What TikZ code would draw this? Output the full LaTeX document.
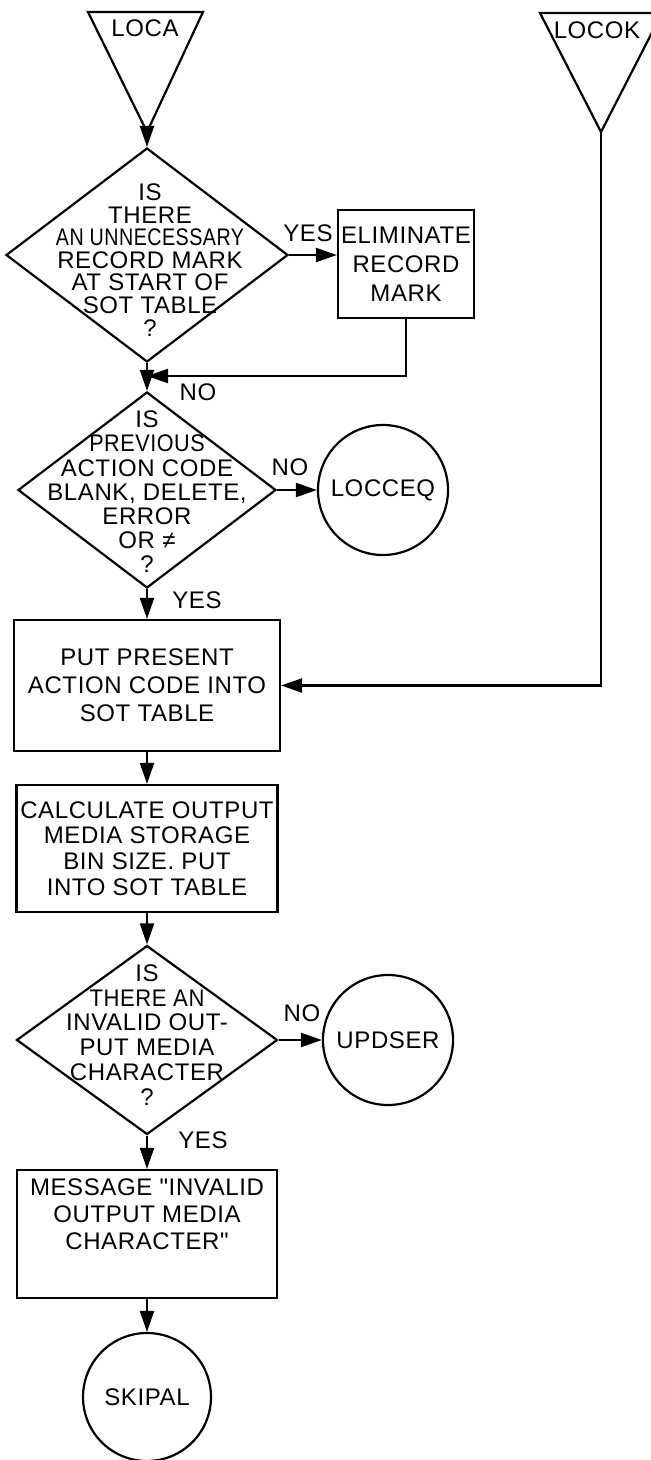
\documentclass[tikz,border=0pt]{standalone}
\usepackage{fontspec}
\setmainfont{Liberation Sans}[Ligatures=TeXOff,LetterSpace=2.5]
\usetikzlibrary{arrows.meta,shapes.geometric}
\begin{document}
\begin{tikzpicture}[x=0.5pt,y=-0.5pt,
  every node/.style={font=\fontsize{12}{12.1}\selectfont},
  line/.style={line width=1.1pt},
  arr/.style={line width=1.1pt,-{Triangle[length=10.5pt,width=7pt]}},
  dia/.style={diamond,draw,line width=1.1pt,inner sep=0pt},
  box/.style={rectangle,draw,line width=1.1pt,inner sep=0pt,align=center},
  term/.style={circle,draw,line width=1.1pt,inner sep=0pt,minimum size=65pt},
  txt/.style={align=center,inner sep=0pt},
  lbl/.style={inner sep=0pt}
]
\clip (0,0) rectangle (651,1460);
\fill[white] (0,0) rectangle (651,1460);

% entry connectors (triangles)
\draw[line] (88,12) -- (203,12) -- (147,132) -- cycle;
\coordinate (locaA) at (147,132);
\node[lbl] (loca) at (145,28) {LOCA};

\draw[line] (540,13) -- (662,13) -- (601,132) -- cycle;
\coordinate (locokA) at (601,132);
\node[lbl] (locok) at (597,30) {LOCOK};

% decision 1
\node[dia,minimum width=141pt,minimum height=107pt] (d1) at (147,255) {};
\node[txt,font=\fontsize{12}{11.3}\selectfont] (d1t) at (150,260)
  {IS\\THERE\\\scalebox{0.82}[1]{AN UNNECESSARY}\\RECORD MARK\\AT START OF\\SOT TABLE\\?};
\node[box,minimum width=68pt,minimum height=54pt,font=\fontsize{12}{14.5}\selectfont] (elim) at (406,264)
  {ELIMINATE\\RECORD\\MARK};
\coordinate (j1) at (147,376);

% decision 2
\node[dia,minimum width=129pt,minimum height=98pt] (d2) at (147,490) {};
\node[txt] (d2t) at (147,492)
  {IS\\\scalebox{0.9}[1]{PREVIOUS}\\ACTION CODE\\BLANK, DELETE,\\ERROR\\OR ≠\\?};
\node[term] (locceq) at (383,490) {LOCCEQ};

% process boxes
\node[box,minimum width=133pt,minimum height=65.5pt,font=\fontsize{12}{14}\selectfont] (put) at (147,685.5)
  {PUT PRESENT\\ACTION CODE INTO\\SOT TABLE};
\node[box,minimum width=130.5pt,minimum height=63.5pt,font=\fontsize{12}{12.8}\selectfont] (calc) at (147,848.5)
  {CALCULATE OUTPUT\\MEDIA STORAGE\\BIN SIZE. PUT\\INTO SOT TABLE};

% decision 3
\node[dia,minimum width=130.5pt,minimum height=94.5pt] (d3) at (147,1040) {};
\node[txt,font=\fontsize{12}{12.4}\selectfont] (d3t) at (147,1035)
  {IS\\\scalebox{0.92}[1]{THERE AN}\\INVALID OUT-\\PUT MEDIA\\CHARACTER\\?};
\node[term] (updser) at (388,1040) {UPDSER};

\node[box,minimum width=130pt,minimum height=64pt,font=\fontsize{12}{13.5}\selectfont] (msg) at (147,1234)
  {MESSAGE "INVALID\\OUTPUT MEDIA\\CHARACTER"\\[6pt]};
\node[term,minimum size=64pt] (skipal) at (147,1397) {SKIPAL};

% labels
\node[lbl] (yes1) at (308,233) {YES};
\node[lbl] (no1) at (198,392) {NO};
\node[lbl] (no2) at (290,467) {NO};
\node[lbl] (yes2) at (197,600) {YES};
\node[lbl] (no3) at (302,1013) {NO};
\node[lbl] (yes3) at (203,1140) {YES};

% connectors
\draw[arr] (locaA) -- (d1.north);
\draw[arr] (d1.east) -- (d1.east -| elim.west);
\draw[arr] (elim.south) |- (j1);
\draw[arr] (d1.south) -- (d2.north);
\draw[arr] (d2.east) -- (locceq.west);
\draw[arr] (d2.south) -- (put.north);
\draw[arr] (locokA) |- (put.east);
\draw[arr] (put.south) -- (calc.north);
\draw[arr] (calc.south) -- (d3.north);
\draw[arr] (d3.east) -- (updser.west);
\draw[arr] (d3.south) -- (msg.north);
\draw[arr] (msg.south) -- (skipal.north);
\end{tikzpicture}
\end{document}
